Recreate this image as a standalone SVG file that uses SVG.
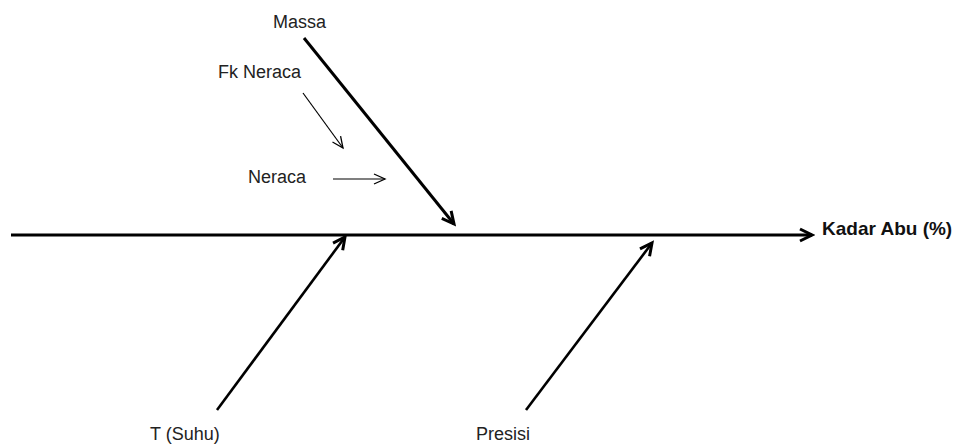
<svg xmlns="http://www.w3.org/2000/svg" width="957" height="445" viewBox="0 0 957 445">
<style>
.lbl{font-family:"Liberation Sans",Arial,sans-serif;font-size:18px;fill:#222}
.bold{font-weight:bold;fill:#111;font-size:19px}
.thick{stroke:#000;stroke-width:3;fill:none}
.mid{stroke:#000;stroke-width:2.6;fill:none}
.thin{stroke:#000;stroke-width:1.2;fill:none}
</style>
<defs>
<marker id="ah" markerUnits="userSpaceOnUse" markerWidth="16" markerHeight="16" refX="13" refY="7" orient="auto" viewBox="0 0 16 14">
<path d="M1,1 L13,7 L1,13" fill="none" stroke="#000" stroke-width="3"/>
</marker>
<marker id="ahs" markerUnits="userSpaceOnUse" markerWidth="14" markerHeight="14" refX="12" refY="6" orient="auto" viewBox="0 0 14 12">
<path d="M1,1 L12,6 L1,11" fill="none" stroke="#000" stroke-width="1.3"/>
</marker>
</defs>
<g id="connectors">
<line class="thick" x1="11" y1="235" x2="812" y2="235" marker-end="url(#ah)"/>
<line class="thick" x1="304" y1="38" x2="454" y2="224" marker-end="url(#ah)"/>
<line class="thin" x1="303" y1="93" x2="343" y2="148" marker-end="url(#ahs)"/>
<line class="thin" x1="333" y1="179" x2="385" y2="179" marker-end="url(#ahs)"/>
<line class="mid" x1="217" y1="410" x2="345" y2="237" marker-end="url(#ah)"/>
<line class="mid" x1="526" y1="410" x2="652" y2="243" marker-end="url(#ah)"/>
</g>
<g id="effect"><text class="lbl bold" x="822" y="235">Kadar Abu (%)</text></g>
<g id="massa"><text class="lbl" x="273" y="28">Massa</text></g>
<g id="fk-neraca"><text class="lbl" x="218" y="78">Fk Neraca</text></g>
<g id="neraca"><text class="lbl" x="248" y="183">Neraca</text></g>
<g id="suhu"><text class="lbl" x="150" y="440">T (Suhu)</text></g>
<g id="presisi"><text class="lbl" x="476" y="440">Presisi</text></g>
</svg>
